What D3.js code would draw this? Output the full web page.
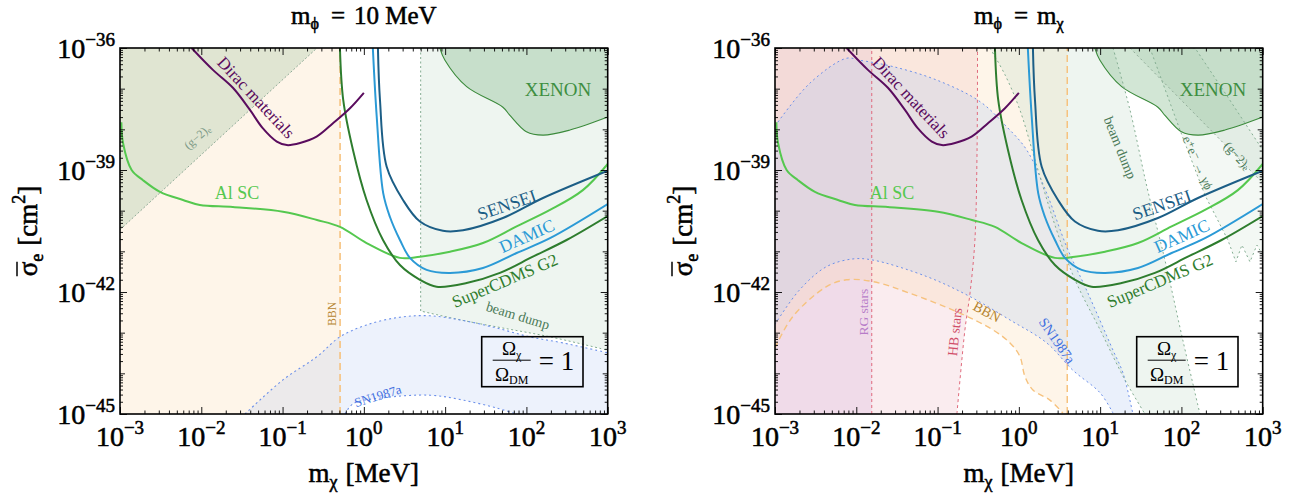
<!DOCTYPE html>
<html>
<head>
<meta charset="utf-8">
<script src="https://cdn.jsdelivr.net/npm/d3@7"></script>
<style>
  body { margin: 0; background: #fff; }
  text { font-family: "Liberation Serif", "DejaVu Serif", serif; }
  .heavy { fill: #000; stroke: #000; stroke-width: 0.55px; }
</style>
</head>
<body>
<svg id="chart" width="1304" height="500"></svg>
<script>
// ---- axis ticks ----
const xTickValues = [1e-3, 1e-2, 1e-1, 1, 1e1, 1e2, 1e3];
const xTickExps = ["−3", "−2", "−1", "0", "1", "2", "3"];
const yTickValues = [1e-36, 1e-39, 1e-42, 1e-45];
const yTickExps = ["−36", "−39", "−42", "−45"];

// ---- experimental curves, [m_chi (MeV), sigma_e (cm^2)] (same in both panels) ----
const diracMaterials = [[7.6e-3, 1e-36], [1.39e-2, 2.9e-37], [2.45e-2, 1.05e-37], [3.97e-2, 3.0e-38], [5.7e-2, 1.07e-38],
  [8.5e-2, 5.0e-39], [0.113, 4.1e-39], [0.164, 4.6e-39], [0.262, 6.6e-39], [0.417, 1.41e-38], [0.675, 3.3e-38], [1.0, 7.9e-38]];
const alSC = [[1.04e-3, 1.5e-38], [1.09e-3, 4.6e-39], [1.39e-3, 1.0e-39], [1.92e-3, 5.6e-40], [3.1e-3, 2.9e-40], [5.96e-3, 1.83e-40],
  [9.6e-3, 1.38e-40], [2.45e-2, 1.23e-40], [0.101, 9.4e-41], [0.265, 5.9e-41], [0.508, 4.0e-41], [1.08, 1.6e-41], [2.78, 6.9e-42],
  [4.9, 7.4e-42], [11.5, 9.8e-42], [29.2, 1.6e-41], [75.7, 4.1e-41], [195, 1.04e-40], [495, 3.2e-40], [1000, 1.41e-39]];
const superCDMS = [[0.508, 1e-36], [0.558, 5.2e-38], [0.735, 3.1e-39], [1.08, 1.83e-40], [1.72, 1.9e-41], [2.78, 4.6e-42],
  [4.9, 2.0e-42], [7.85, 1.35e-42], [18.4, 1.66e-42], [47.2, 2.95e-42], [120, 7.4e-42], [312, 1.9e-41], [1000, 7.4e-41]];
const damic = [[1.29, 1e-36], [1.44, 2.04e-38], [1.73, 2.7e-40], [2.09, 7.1e-41], [2.78, 1.9e-41], [3.69, 6.9e-42], [5.92, 3.5e-42],
  [11.5, 2.95e-42], [29.2, 3.9e-42], [75.7, 9.1e-42], [195, 2.1e-41], [1000, 1.45e-40]];
const sensei = [[1.49, 1e-36], [1.58, 5.2e-38], [1.91, 1.2e-39], [3.03, 1.83e-40], [4.9, 5.4e-41], [9.4, 3.2e-41], [16.6, 3.3e-41],
  [51.4, 6.6e-41], [160, 2.05e-40], [1000, 9.6e-40]];
const xenon = [[8.6, 1e-36], [9.95, 5.0e-37], [18.4, 1.12e-37], [51.4, 3.5e-38], [62.7, 2.2e-38], [100, 8.7e-39], [160, 7.2e-39],
  [343, 9.6e-39], [1000, 2.0e-38]];

// ---- left panel (m_phi = 10 MeV) constraints ----
const g2Left = [[1e-3, 3.4e-41], [0.265, 1e-36]];
const bbnLeftMass = 0.51;
const beamDumpLeftMass = 5;
const beamDumpLeft = [[5, 3.4e-43], [16.6, 2.0e-43], [51.4, 1.3e-43], [195, 7.9e-44], [1000, 3.7e-44]];
const snLeftUpper = [[0.0345, 1e-45], [0.101, 6.9e-45], [0.265, 2.57e-44], [0.508, 7.9e-44], [1.08, 1.55e-43], [2.78, 2.4e-43],
  [6.5, 2.6e-43], [16.6, 2.0e-43], [43, 1.3e-43], [110, 7.9e-44], [281, 5.6e-44], [1000, 3.2e-44]];
const snLeftLower = [[0.586, 1e-45], [0.741, 1.8e-45], [1.72, 2.5e-45], [6.5, 2.9e-45], [16.6, 2.2e-45], [43, 1.4e-45], [75.7, 1e-45]];

// ---- right panel (m_phi = m_chi) constraints ----
const rgMass = 0.0155;
const hbEdge = [[0.173, 1e-45], [0.217, 1.17e-43], [0.251, 9.5e-43], [0.288, 1.9e-41], [0.306, 3.1e-39], [0.31, 1e-36]];
const bbnRightEdge = [[1e-3, 4.2e-44], [1.66e-3, 2.5e-43], [4.3e-3, 1.35e-42], [7.6e-3, 2.0e-42], [0.016, 1.8e-42], [0.0458, 9.3e-43],
  [0.189, 3.0e-43], [0.48, 1.17e-43], [0.778, 5.6e-44], [1.03, 2.6e-44], [1.19, 8.3e-45], [1.49, 3.9e-45], [2.41, 2.2e-45], [3.48, 1.05e-45]];
const bbnRightMass = 3.94;
const snRightUpper = [[1e-3, 1.2e-38], [2.7e-3, 1.38e-37], [7.6e-3, 5.6e-37], [0.0111, 5.0e-37], [0.0282, 3.5e-37], [0.0975, 1.63e-37],
  [0.333, 4.8e-38], [0.708, 1.16e-38], [1.25, 3.1e-39], [2.2, 2.7e-40], [3.87, 1.3e-41], [6.8, 1.12e-42], [14.4, 3.7e-44],
  [19.1, 1.02e-44], [25.3, 1e-45]];
const snRightLower = [[1e-3, 1.6e-43], [2.0e-3, 1.12e-42], [4.3e-3, 4.2e-42], [9.1e-3, 6.5e-42], [0.016, 6.1e-42], [0.0735, 2.4e-42],
  [0.251, 7.7e-43], [0.778, 2.05e-43], [2.2, 5.6e-44], [4.6, 1.2e-44], [10, 3.3e-45], [14.4, 1.05e-45]];
const beamDumpRightInner = [[0.44, 1e-36], [0.675, 2.2e-37], [1.03, 3.0e-38], [1.58, 1.77e-39], [2.78, 4.4e-41], [4.9, 2.0e-42],
  [10, 1.17e-43], [20.2, 6.9e-45], [35.6, 1e-45]];
const beamDumpRightOuter = [[14.4, 1e-36], [23.3, 3.0e-38], [37.7, 3.8e-40], [62.7, 6.1e-42], [104, 6.6e-44], [169, 1e-45]];
const eeRegion = [[41, 1e-36], [96, 9.6e-39], [195, 2.4e-40], [373, 1.9e-41], [468, 5.5e-42], [555, 1.43e-41], [697, 5.5e-42],
  [849, 1.43e-41], [1000, 8.1e-42], [1000, 3.1e-39], [395, 5.2e-38], [147, 1e-36]];
const g2Right = [[23.3, 1e-36], [1000, 4.8e-40]];

// ---- layout ----
const W = 487.7, H = 366, TOP = 48;
const svg = d3.select("#chart");
const x = d3.scaleLog().domain([1e-3, 1e3]).range([0, W]);
const y = d3.scaleLog().domain([1e-45, 1e-36]).range([H, 0]);
const smooth = d3.line().x(d => x(d[0])).y(d => y(d[1])).curve(d3.curveCatmullRom.alpha(0.5));
const straight = d3.line().x(d => x(d[0])).y(d => y(d[1]));

const C = {
  bbn: "#fbd9a8", bbnLine: "#f6c27e", bbnText: "#b5842f",
  g2: "#9bbf9f", g2Line: "#8faa97",
  sn: "#b8cdf2", snLine: "#6c90ea", snText: "#3f6fe0",
  bd: "#c8dfcc", bdLine: "#84ad92", bdText: "#4b7a58",
  xenon: "#7fb887", xenonLine: "#3b8a3b", xenonText: "#3e8e41",
  hb: "#e8a0b0", rg: "#c99ad0", starLine: "#e06a7c",
  dirac: "#5a0c5e", alsc: "#55c84f", cdms: "#2e7d2e", damic: "#2b9ad6", sensei: "#1c5e86"
};

// build a closed region out of smooth / straight pieces
function areaPath(...segs) {
  return segs.map((s, i) => {
    const d = s.smooth ? smooth(s.pts) : straight(s.pts);
    return i ? d.replace(/^M/, "L") : d;
  }).join("") + "Z";
}
function fillRegion(g, d, color, op) {
  g.append("path").attr("d", d).attr("fill", color).attr("fill-opacity", op).attr("stroke", "none");
}
function edge(g, d, color, dash, w) {
  g.append("path").attr("d", d).attr("fill", "none").attr("stroke", color)
    .attr("stroke-width", w || 1).attr("stroke-dasharray", dash);
}
function label(g, o) {
  const t = g.append("text")
    .attr("transform", `translate(${x(o.m)},${y(o.s)}) rotate(${o.rot || 0})`)
    .attr("text-anchor", "middle").attr("dominant-baseline", "central")
    .attr("font-size", o.size).attr("fill", o.color);
  if (o.sub) {
    t.append("tspan").text(o.text);
    t.append("tspan").attr("font-size", o.size * 0.7).attr("dy", o.size * 0.25).text(o.sub);
  } else t.text(o.text);
}

function makePanel(x0, id) {
  svg.append("clipPath").attr("id", id).append("rect").attr("width", W).attr("height", H);
  const g = svg.append("g").attr("transform", `translate(${x0},${TOP})`);
  const inner = g.append("g").attr("clip-path", `url(#${id})`);
  return { g, inner };
}

function drawXenon(g) {
  const d = areaPath({ smooth: true, pts: xenon }, { pts: [[1000, 1e-36]] });
  fillRegion(g, d, C.xenon, 0.35);
  g.append("path").attr("d", smooth(xenon)).attr("fill", "none").attr("stroke", C.xenonLine).attr("stroke-width", 1.1);
}

function drawCurves(g) {
  const curves = [[alSC, C.alsc], [superCDMS, C.cdms], [damic, C.damic], [sensei, C.sensei], [diracMaterials, C.dirac]];
  curves.forEach(([pts, col]) => {
    g.append("path").attr("d", smooth(pts)).attr("fill", "none").attr("stroke", col)
      .attr("stroke-width", 2).attr("stroke-linejoin", "round");
  });
}

function commonLabels(g) {
  [
    { text: "Dirac materials", m: 0.047, s: 6.0e-38, rot: 47, size: 17, color: C.dirac },
    { text: "Al SC", m: 0.0275, s: 2.7e-40, rot: 0, size: 18, color: C.alsc },
    { text: "SENSEI", m: 57.5, s: 1.38e-40, rot: -19, size: 18, color: C.sensei },
    { text: "DAMIC", m: 101, s: 2.4e-41, rot: -24, size: 17.5, color: C.damic },
    { text: "SuperCDMS G2", m: 54.4, s: 1.87e-42, rot: -23, size: 17, color: C.cdms },
    { text: "XENON", m: 244, s: 9.3e-38, rot: 0, size: 19, color: C.xenonText }
  ].forEach(o => label(g, o));
}

function legendBox(g) {
  const b = g.append("g").attr("transform", `translate(361.7,288.7)`);
  b.append("rect").attr("width", 101.3).attr("height", 50).attr("fill", "none").attr("stroke", "#000").attr("stroke-width", 1.6);
  const num = b.append("text").attr("x", 30).attr("y", 18).attr("text-anchor", "middle").attr("font-size", 19);
  num.append("tspan").text("Ω");
  num.append("tspan").attr("font-size", 12).attr("dy", 4).text("χ");
  b.append("line").attr("x1", 11).attr("x2", 49).attr("y1", 23.5).attr("y2", 23.5).attr("stroke", "#000").attr("stroke-width", 1);
  const den = b.append("text").attr("x", 30).attr("y", 44).attr("text-anchor", "middle").attr("font-size", 19);
  den.append("tspan").text("Ω");
  den.append("tspan").attr("font-size", 12).attr("dy", 3).text("DM");
  b.append("text").attr("x", 57).attr("y", 33.5).attr("font-size", 27).text("= 1");
}

function frameAndTicks(g) {
  const minorX = [];
  for (let d = -3; d < 3; d++) for (let k = 2; k < 10; k++) minorX.push(k * Math.pow(10, d));
  const decY = [], minorY = [];
  for (let d = -45; d < -36; d++) {
    if ((d + 36) % 3 !== 0) decY.push(Math.pow(10, d));
    for (let k = 2; k < 10; k++) minorY.push(k * Math.pow(10, d));
  }
  const specs = [
    [d3.axisBottom, x, `translate(0,${H})`, [[xTickValues, 7], [minorX, 3.5]]],
    [d3.axisTop, x, "translate(0,0)", [[xTickValues, 7], [minorX, 3.5]]],
    [d3.axisLeft, y, "translate(0,0)", [[yTickValues, 7], [decY, 5], [minorY, 3]]],
    [d3.axisRight, y, `translate(${W},0)`, [[yTickValues, 7], [decY, 5], [minorY, 3]]]
  ];
  specs.forEach(([gen, sc, tr, sets]) => {
    sets.forEach(([vals, len]) => {
      const a = g.append("g").attr("transform", tr)
        .call(gen(sc).tickValues(vals).tickSize(-len).tickFormat(""));
      a.select(".domain").remove();
      a.selectAll("line").attr("stroke", "#000").attr("stroke-width", 0.9);
    });
  });
  g.append("rect").attr("width", W).attr("height", H).attr("fill", "none").attr("stroke", "#000").attr("stroke-width", 1.6);

  // tick labels
  xTickValues.forEach((v, i) => {
    const t = g.append("text").attr("class", "heavy").attr("x", x(v)).attr("y", H + 32)
      .attr("text-anchor", "middle").attr("font-size", 28);
    t.append("tspan").text("10");
    t.append("tspan").attr("font-size", 19).attr("dy", -12).text(xTickExps[i]);
  });
  yTickValues.forEach((v, i) => {
    const t = g.append("text").attr("class", "heavy").attr("x", -5).attr("y", y(v) + 10)
      .attr("text-anchor", "end").attr("font-size", 28);
    t.append("tspan").text("10");
    t.append("tspan").attr("font-size", 19).attr("dy", -12).text(yTickExps[i]);
  });

  // axis titles
  const xl = g.append("text").attr("class", "heavy").attr("x", W / 2).attr("y", 482 - TOP)
    .attr("text-anchor", "middle").attr("font-size", 27);
  xl.append("tspan").text("m");
  xl.append("tspan").attr("font-size", 18).attr("dy", 6).text("χ");
  xl.append("tspan").attr("dy", -6).attr("dx", 8).text("[MeV]");

  const yg = g.append("g").attr("transform", `translate(${37 - 120},${H / 2}) rotate(-90)`);
  const yl = yg.append("text").attr("class", "heavy").attr("text-anchor", "middle").attr("font-size", 27);
  yl.append("tspan").text("σ");
  yl.append("tspan").attr("font-size", 18).attr("dy", 6).text("e");
  yl.append("tspan").attr("dy", -6).attr("dx", 8).text("[cm");
  yl.append("tspan").attr("font-size", 18).attr("dy", -12).text("2");
  yl.append("tspan").attr("dy", 12).text("]");
  const n = yl.node();
  const s0 = n.getStartPositionOfChar(0), s1 = n.getEndPositionOfChar(0);
  yg.append("line").attr("x1", s0.x).attr("x2", s1.x).attr("y1", -20).attr("y2", -20)
    .attr("stroke", "#000").attr("stroke-width", 1.5);
}

function title(g, parts) {
  const t = g.append("text").attr("class", "heavy").attr("x", W / 2).attr("y", 24 - TOP)
    .attr("text-anchor", "middle").attr("font-size", 25);
  parts.forEach(p => {
    const ts = t.append("tspan").text(p.text);
    if (p.sub) ts.attr("font-size", 16).attr("dy", 5);
    if (p.up) ts.attr("dy", -5);
    if (p.dx) ts.attr("dx", p.dx);
  });
}

// ================= LEFT PANEL =================
const L = makePanel(120, "clipL");
L.inner.append("rect").attr("x", x(1e-3)).attr("y", 0).attr("width", x(bbnLeftMass) - x(1e-3)).attr("height", H)
  .attr("fill", C.bbn).attr("fill-opacity", 0.25);
fillRegion(L.inner, areaPath({ pts: [[1e-3, 1e-36], ...g2Left] }), C.g2, 0.3);
fillRegion(L.inner, areaPath({ smooth: true, pts: snLeftUpper }, { pts: [[1000, 1e-45]] },
  { smooth: true, pts: snLeftLower.slice().reverse() }), C.sn, 0.25);
fillRegion(L.inner, areaPath({ pts: [[beamDumpLeftMass, 1e-36]] }, { smooth: true, pts: beamDumpLeft }, { pts: [[1000, 1e-36]] }),
  C.bd, 0.3);
drawXenon(L.inner);
edge(L.inner, straight([[bbnLeftMass, 1e-45], [bbnLeftMass, 1e-36]]), C.bbnLine, "7,4", 1.6);
edge(L.inner, straight(g2Left), C.g2Line, "2,2", 1);
edge(L.inner, straight([[beamDumpLeftMass, 1e-36], [beamDumpLeftMass, beamDumpLeft[0][1]]]) + smooth(beamDumpLeft).replace(/^M/, "L"),
  C.bdLine, "2,2.5", 1);
edge(L.inner, smooth(snLeftUpper), C.snLine, "2,3", 1.1);
edge(L.inner, smooth(snLeftLower), C.snLine, "2,3", 1.1);
drawCurves(L.inner);
commonLabels(L.inner);
[
  { text: "(g−2)", sub: "e", m: 8.9e-3, s: 6.5e-39, rot: -42, size: 12, color: "#7d9a86" },
  { text: "BBN", m: 0.405, s: 2.9e-43, rot: -90, size: 11.5, color: C.bbnText },
  { text: "SN1987a", m: 1.49, s: 2.8e-45, rot: -17, size: 13, color: C.snText },
  { text: "beam dump", m: 78.5, s: 2.6e-43, rot: 17, size: 14, color: C.bdText }
].forEach(o => label(L.inner, o));
legendBox(L.g);
frameAndTicks(L.g);
title(L.g, [{ text: "m" }, { text: "ϕ", sub: true }, { text: "=", up: true, dx: 12 }, { text: "10 MeV", dx: 9 }]);

// ================= RIGHT PANEL =================
const R = makePanel(775, "clipR");
fillRegion(R.inner, areaPath({ pts: [[1e-3, 1e-45]] }, { smooth: true, pts: hbEdge }, { pts: [[1e-3, 1e-36]] }), C.hb, 0.2);
R.inner.append("rect").attr("x", x(1e-3)).attr("y", 0).attr("width", x(rgMass) - x(1e-3)).attr("height", H)
  .attr("fill", C.rg).attr("fill-opacity", 0.2);
fillRegion(R.inner, areaPath({ pts: [[1e-3, 1e-36]] }, { smooth: true, pts: bbnRightEdge },
  { pts: [[bbnRightMass, 1e-45], [bbnRightMass, 1e-36]] }), C.bbn, 0.25);
fillRegion(R.inner, areaPath({ smooth: true, pts: snRightUpper }, { smooth: true, pts: snRightLower.slice().reverse() }), C.sn, 0.3);
fillRegion(R.inner, areaPath({ smooth: true, pts: beamDumpRightInner }, { smooth: true, pts: beamDumpRightOuter.slice().reverse() }),
  C.bd, 0.3);
fillRegion(R.inner, areaPath({ pts: eeRegion }), C.bd, 0.22);
fillRegion(R.inner, areaPath({ pts: [...g2Right, [1000, 1e-36]] }), C.g2, 0.18);
drawXenon(R.inner);
edge(R.inner, straight([[rgMass, 1e-45], [rgMass, 1e-36]]), C.starLine, "3,3", 1);
edge(R.inner, smooth(hbEdge), C.starLine, "3,3", 1);
edge(R.inner, smooth(bbnRightEdge), C.bbnLine, "6,4", 1.4);
edge(R.inner, straight([[bbnRightMass, 1e-45], [bbnRightMass, 1e-36]]), C.bbnLine, "7,4", 1.5);
edge(R.inner, smooth(snRightUpper), C.snLine, "2,3", 1);
edge(R.inner, smooth(snRightLower), C.snLine, "2,3", 1);
edge(R.inner, smooth(beamDumpRightInner), C.bdLine, "2,3", 1);
edge(R.inner, smooth(beamDumpRightOuter), C.bdLine, "2,3", 1);
edge(R.inner, areaPath({ pts: eeRegion }), C.bdLine, "2,3", 1);
edge(R.inner, straight(g2Right), C.g2Line, "2,3", 1);
drawCurves(R.inner);
commonLabels(R.inner);
[
  { text: "RG stars", m: 0.0121, s: 3.2e-43, rot: -90, size: 13.5, color: "#b77cc8" },
  { text: "HB stars", m: 0.164, s: 1.04e-43, rot: -84, size: 14, color: "#d04d68" },
  { text: "BBN", m: 0.405, s: 3.2e-43, rot: 28, size: 14, color: C.bbnText },
  { text: "SN1987a", m: 2.94, s: 6.3e-44, rot: 55, size: 14, color: C.snText },
  { text: "beam dump", m: 17.5, s: 3.5e-39, rot: 68, size: 14, color: C.bdText },
  { text: "e⁺e⁻ → γϕ", m: 160, s: 1.5e-39, rot: 66, size: 13, color: C.bdText },
  { text: "(g−2)", sub: "e", m: 495, s: 2.3e-39, rot: 47, size: 13, color: C.bdText }
].forEach(o => label(R.inner, o));
legendBox(R.g);
frameAndTicks(R.g);
title(R.g, [{ text: "m" }, { text: "ϕ", sub: true }, { text: "=", up: true, dx: 12 }, { text: "m", dx: 9 }, { text: "χ", sub: true }]);
</script>
</body>
</html>
